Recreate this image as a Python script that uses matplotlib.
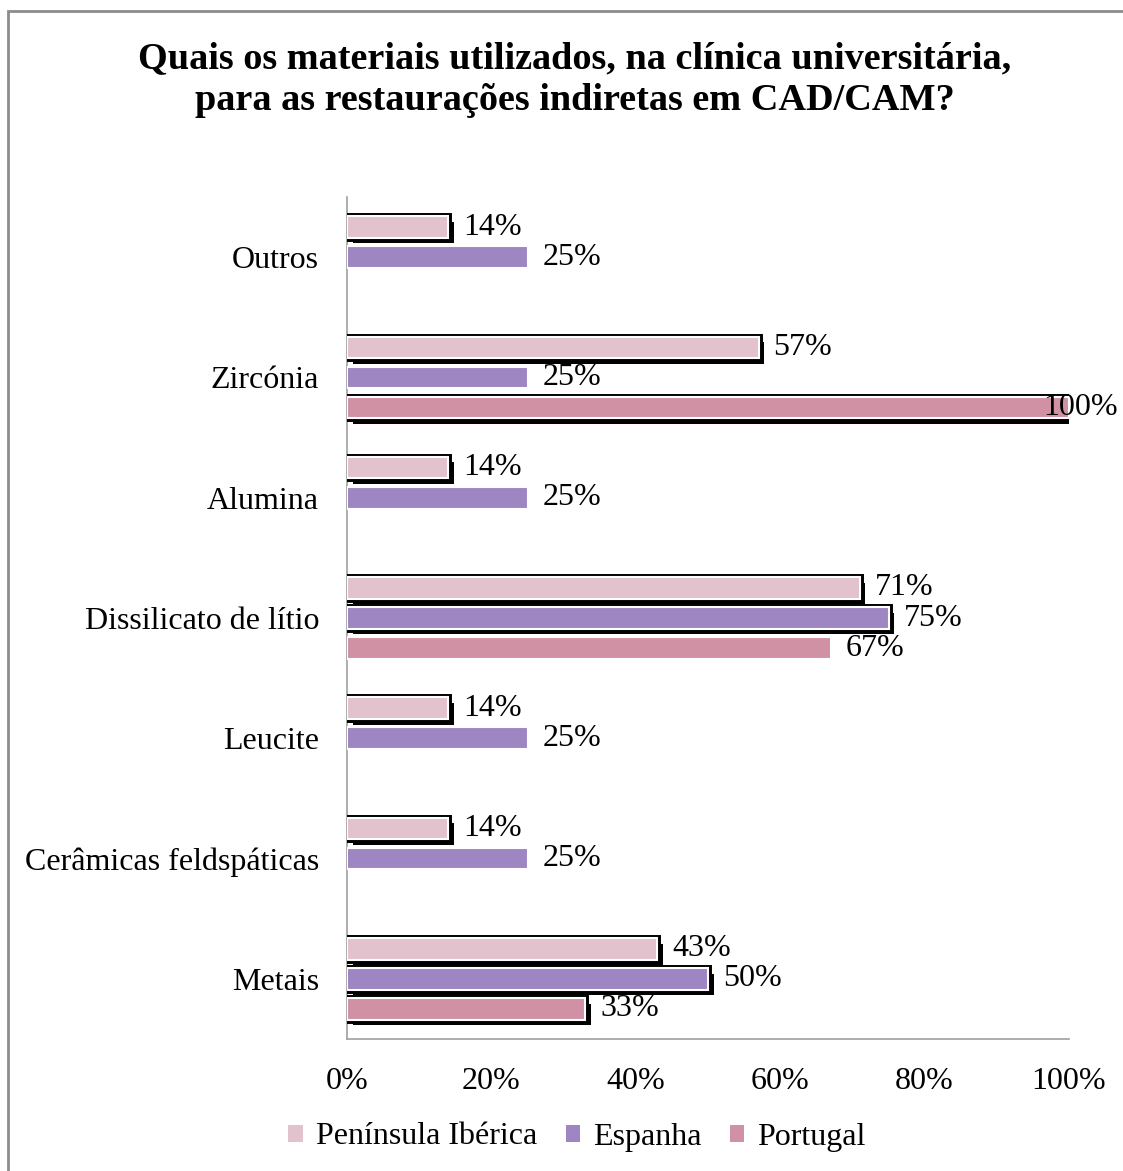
import matplotlib
matplotlib.use("Agg")
import matplotlib.pyplot as plt
import matplotlib.patheffects as pe
from matplotlib.patches import Rectangle, Patch
import numpy as np

plt.rcParams['font.family'] = ['Liberation Serif', 'DejaVu Serif']

categories = ["Metais", "Cerâmicas feldspáticas", "Leucite", "Dissilicato de lítio",
              "Alumina", "Zircónia", "Outros"]
series_names = ["Península Ibérica", "Espanha", "Portugal"]
peninsula = [0.43, 0.14, 0.14, 0.71, 0.14, 0.57, 0.14]
espanha = [0.50, 0.25, 0.25, 0.75, 0.25, 0.25, 0.25]
portugal = [0.33, 0.0, 0.0, 0.67, 0.0, 1.00, 0.0]
xticks = [0, 0.2, 0.4, 0.6, 0.8, 1.0]
xtick_labels = ["0%", "20%", "40%", "60%", "80%", "100%"]
title = "Quais os materiais utilizados, na clínica universitária,\npara as restaurações indiretas em CAD/CAM?"

colors = ["#E2C2CC", "#9E86C2", "#D191A5"]
# bars that show a black shadow in the reference (series index, category index)
shadowed = {(0, 0), (0, 1), (0, 2), (0, 3), (0, 4), (0, 5), (0, 6),
            (1, 0), (1, 3), (2, 0), (2, 5)}

FS = 23

fig = plt.figure(figsize=(11.23, 11.71), dpi=100)
ax = fig.add_axes([347/1123, 1 - 1039/1171, (1069-347)/1123, (1039-197)/1171])

y = np.arange(len(categories))
offsets = [0.25, 0.0, -0.25]
bar_h = 0.18
all_vals = [peninsula, espanha, portugal]

for si, (vals, off, col) in enumerate(zip(all_vals, offsets, colors)):
    for ci, v in enumerate(vals):
        if v <= 0:
            continue
        bars = ax.barh(y[ci] + off, v, height=bar_h, color=col,
                       edgecolor="white", linewidth=1.5, zorder=3)
        if (si, ci) in shadowed:
            bars[0].set_path_effects([
                pe.SimplePatchShadow(offset=(4, -4), shadow_rgbFace="black", alpha=1.0),
                pe.Stroke(linewidth=5, foreground="black"),
                pe.Normal()])
        dx = -26 if v >= 0.999 else 15
        ax.annotate(f"{round(v*100)}%", (v, y[ci] + off), xytext=(dx, 0),
                    textcoords="offset pixels", va="center", ha="left",
                    fontsize=FS, zorder=5, annotation_clip=False)

ax.set_xlim(0, 1)
ax.set_ylim(-0.5, len(categories) - 0.5)
ax.set_yticks(y)
ax.set_yticklabels(categories, fontsize=FS)
ax.set_xticks(xticks)
ax.set_xticklabels(xtick_labels, fontsize=FS)
ax.tick_params(axis="both", length=0)
ax.tick_params(axis="y", pad=20)
ax.tick_params(axis="x", pad=20)
for s in ["top", "right"]:
    ax.spines[s].set_visible(False)
for s in ["left", "bottom"]:
    ax.spines[s].set_color("#A0A0A0")
    ax.spines[s].set_linewidth(1.2)

fig.text(0.512, 1 - 80/1171, title, ha="center", va="center",
         fontsize=27.5, fontweight="bold", linespacing=1.25)

handles = [Patch(facecolor=c, edgecolor="none") for c in colors]
fig.legend(handles, series_names, loc="center", bbox_to_anchor=(577/1123, 1 - 1137/1171),
           ncol=3, frameon=False, fontsize=FS, handlelength=0.45, handleheight=0.45,
           handletextpad=0.4, columnspacing=0.9)

fig.patches.append(Rectangle((8/1123, -0.05), 1.2, 1 - 11/1171 + 0.05,
                             transform=fig.transFigure, fill=False,
                             edgecolor="#8C8C8C", linewidth=2))

fig.savefig("out.png", dpi=100)
